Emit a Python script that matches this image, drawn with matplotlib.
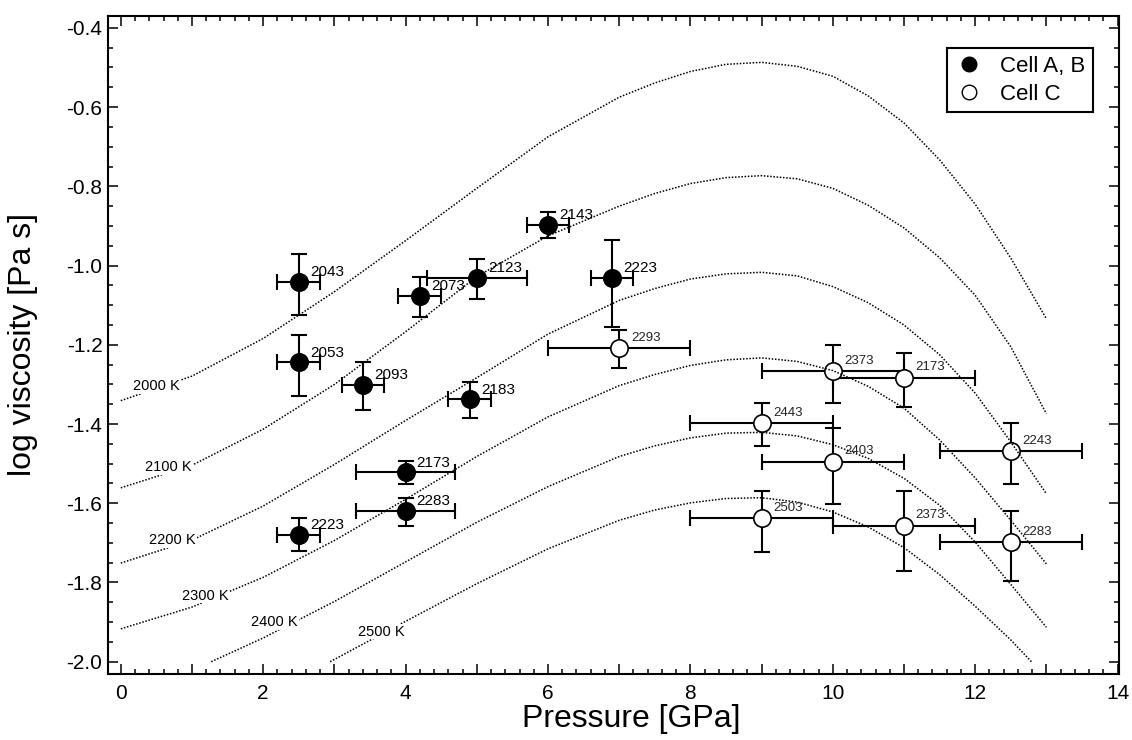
import matplotlib
matplotlib.use("Agg")
import matplotlib.pyplot as plt
from matplotlib.ticker import MultipleLocator, FuncFormatter
from matplotlib.lines import Line2D

plt.rcParams['font.family'] = ['Liberation Sans', 'DejaVu Sans']
plt.rcParams['axes.unicode_minus'] = False

# ---- Measurements, cell A/B (filled symbols) ----
ab_pressure = [2.5, 2.5, 3.4, 4.2, 5.0, 6.0, 6.9, 4.9, 4.0, 4.0, 2.5]
ab_logeta = [-1.041, -1.244, -1.302, -1.076, -1.031, -0.897, -1.031, -1.338, -1.522, -1.619, -1.679]
ab_err_up = [0.070, 0.070, 0.058, 0.048, 0.048, 0.032, 0.096, 0.045, 0.028, 0.033, 0.041]
ab_err_dn = [0.084, 0.085, 0.063, 0.053, 0.054, 0.034, 0.123, 0.048, 0.030, 0.039, 0.041]
ab_perr = [0.3, 0.3, 0.3, 0.3, 0.7, 0.3, 0.3, 0.3, 0.7, 0.7, 0.3]
ab_temp = ['2043', '2053', '2093', '2073', '2123', '2143', '2223', '2183', '2173', '2283', '2223']

# ---- Measurements, cell C (open symbols) ----
c_pressure = [7.0, 10.0, 11.0, 9.0, 10.0, 12.5, 9.0, 11.0, 12.5]
c_logeta = [-1.209, -1.266, -1.283, -1.398, -1.495, -1.468, -1.638, -1.657, -1.699]
c_err_up = [0.046, 0.065, 0.062, 0.050, 0.086, 0.070, 0.070, 0.088, 0.079]
c_err_dn = [0.050, 0.080, 0.073, 0.058, 0.107, 0.084, 0.084, 0.113, 0.097]
c_perr = [1.0, 1.0, 1.0, 1.0, 1.0, 1.0, 1.0, 1.0, 1.0]
c_temp = ['2293', '2373', '2173', '2443', '2403', '2243', '2503', '2373', '2283']

# ---- Model isotherms (log viscosity vs pressure) ----
iso_2000_p = [0, 1, 2, 3, 4, 5, 6, 7, 7.5, 8, 8.5, 9, 9.5, 10, 10.5, 11, 11.5, 12, 12.5, 13]
iso_2000_y = [-1.341, -1.279, -1.184, -1.066, -0.937, -0.805, -0.675, -0.575, -0.539, -0.510,
              -0.492, -0.487, -0.497, -0.522, -0.572, -0.640, -0.733, -0.845, -0.981, -1.134]

iso_2100_p = [0, 1, 2, 3, 4, 5, 6, 7, 7.5, 8, 8.5, 9, 9.5, 10, 10.5, 11, 11.5, 12, 12.5, 13]
iso_2100_y = [-1.561, -1.504, -1.413, -1.300, -1.167, -1.028, -0.925, -0.850, -0.818, -0.793,
              -0.778, -0.773, -0.781, -0.805, -0.848, -0.905, -0.980, -1.075, -1.205, -1.374]

iso_2200_p = [0, 1, 2, 3, 4, 5, 6, 7, 7.5, 8, 8.5, 9, 9.5, 10, 10.5, 11, 11.5, 12, 12.5, 13]
iso_2200_y = [-1.751, -1.693, -1.607, -1.502, -1.391, -1.283, -1.173, -1.088, -1.058, -1.034,
              -1.021, -1.017, -1.026, -1.053, -1.094, -1.150, -1.225, -1.322, -1.445, -1.576]

iso_2300_p = [0, 1, 2, 3, 4, 5, 6, 7, 7.5, 8, 8.5, 9, 9.5, 10, 10.5, 11, 11.5, 12, 12.5, 13]
iso_2300_y = [-1.917, -1.862, -1.787, -1.694, -1.590, -1.482, -1.382, -1.303, -1.275, -1.252,
              -1.238, -1.233, -1.242, -1.265, -1.305, -1.360, -1.440, -1.536, -1.643, -1.753]

iso_2400_p = [1.27, 2, 3, 4, 5, 6, 7, 7.5, 8, 8.5, 9, 9.5, 10, 10.5, 11, 11.5, 12, 12.5, 13]
iso_2400_y = [-2.000, -1.940, -1.848, -1.748, -1.648, -1.558, -1.482, -1.455, -1.435, -1.423,
              -1.421, -1.430, -1.452, -1.487, -1.537, -1.605, -1.698, -1.805, -1.913]

iso_2500_p = [2.94, 3.5, 4, 5, 6, 7, 7.5, 8, 8.5, 9, 9.5, 10, 10.5, 11, 11.5, 12, 12.5, 12.79]
iso_2500_y = [-2.000, -1.946, -1.898, -1.803, -1.715, -1.643, -1.617, -1.599, -1.588, -1.586,
              -1.597, -1.622, -1.660, -1.712, -1.780, -1.860, -1.945, -2.000]

iso_labels = ['2000 K', '2100 K', '2200 K', '2300 K', '2400 K', '2500 K']

# ---- Figure ----
fig = plt.figure(figsize=(11.32, 7.40), dpi=100)
W, H = 1132.0, 740.0
ax = fig.add_axes([108 / W, 1 - 674 / H, (1119 - 108) / W, (674 - 16) / H])

isotherms = [
    (iso_2000_p, iso_2000_y),
    (iso_2100_p, iso_2100_y),
    (iso_2200_p, iso_2200_y),
    (iso_2300_p, iso_2300_y),
    (iso_2400_p, iso_2400_y),
    (iso_2500_p, iso_2500_y),
]
for p, y in isotherms:
    ax.plot(p, y, color='black', lw=1.1, linestyle=(0, (1, 1.1)), zorder=4)

# isotherm labels sit on top of their curves
iso_label_pos = [(0.50, -1.305), (0.67, -1.509), (0.73, -1.694),
                 (1.18, -1.833), (2.16, -1.900), (3.66, -1.924)]
for (px, py), lab in zip(iso_label_pos, iso_labels):
    ax.text(px, py, lab, fontsize=10.5, ha='center', va='center', zorder=5,
            bbox=dict(facecolor='white', edgecolor='none', pad=0.5))

err_kw = dict(fmt='none', ecolor='black', elinewidth=1.5, capsize=5.5, capthick=1.5, zorder=2)
ax.errorbar(ab_pressure, ab_logeta, yerr=[ab_err_dn, ab_err_up], xerr=ab_perr, **err_kw)
ax.errorbar(c_pressure, c_logeta, yerr=[c_err_dn, c_err_up], xerr=c_perr, **err_kw)

ax.plot(ab_pressure, ab_logeta, 'o', ms=12.5, mfc='black', mec='black', mew=1.2, zorder=3)
ax.plot(c_pressure, c_logeta, 'o', ms=12.5, mfc='white', mec='black', mew=1.2, zorder=3)

for x, y, t in zip(ab_pressure, ab_logeta, ab_temp):
    ax.annotate(t, (x, y), xytext=(8, 7), textcoords='offset points',
                fontsize=11, ha='left', va='center', zorder=6)
for x, y, t in zip(c_pressure, c_logeta, c_temp):
    ax.annotate(t, (x, y), xytext=(8.5, 7.5), textcoords='offset points',
                fontsize=9.5, ha='left', va='center', color='#222222', zorder=6)

ax.set_xlim(-0.18, 14.02)
ax.set_ylim(-2.031, -0.370)

ax.xaxis.set_major_locator(MultipleLocator(1))
ax.xaxis.set_minor_locator(MultipleLocator(0.2))
ax.xaxis.set_major_formatter(FuncFormatter(lambda v, pos: f"{v:.0f}" if round(v) % 2 == 0 else ""))
ax.yaxis.set_major_locator(MultipleLocator(0.2))
ax.yaxis.set_minor_locator(MultipleLocator(0.05))
ax.yaxis.set_major_formatter(FuncFormatter(lambda v, pos: f"{v:.1f}"))

ax.tick_params(which='both', direction='in', top=True, right=True, width=1.1, labelsize=15)
ax.tick_params(which='major', length=7)
ax.tick_params(which='minor', length=3.6)
ax.tick_params(axis='x', which='major', pad=7)
ax.tick_params(axis='y', which='major', pad=4)
for s in ax.spines.values():
    s.set_linewidth(1.5)

ax.set_xlabel('Pressure [GPa]', fontsize=23)
ax.set_ylabel('log viscosity [Pa s]', fontsize=23)
ax.xaxis.set_label_coords(0.518, -0.046)
ax.yaxis.set_label_coords(-0.069, 0.5)

handles = [
    Line2D([], [], marker='o', ls='none', ms=10.5, mfc='black', mec='black'),
    Line2D([], [], marker='o', ls='none', ms=10.5, mfc='white', mec='black', mew=1.0),
]
leg = ax.legend(handles, ['Cell A, B', 'Cell C'], loc='upper right',
                bbox_to_anchor=(0.974, 0.951), fontsize=16, frameon=True,
                fancybox=False, framealpha=1, edgecolor='black',
                handlelength=1.2, handletextpad=0.8, labelspacing=0.3,
                borderpad=0.35, borderaxespad=0)
leg.get_frame().set_linewidth(1.5)

fig.savefig('out.png', dpi=100)
